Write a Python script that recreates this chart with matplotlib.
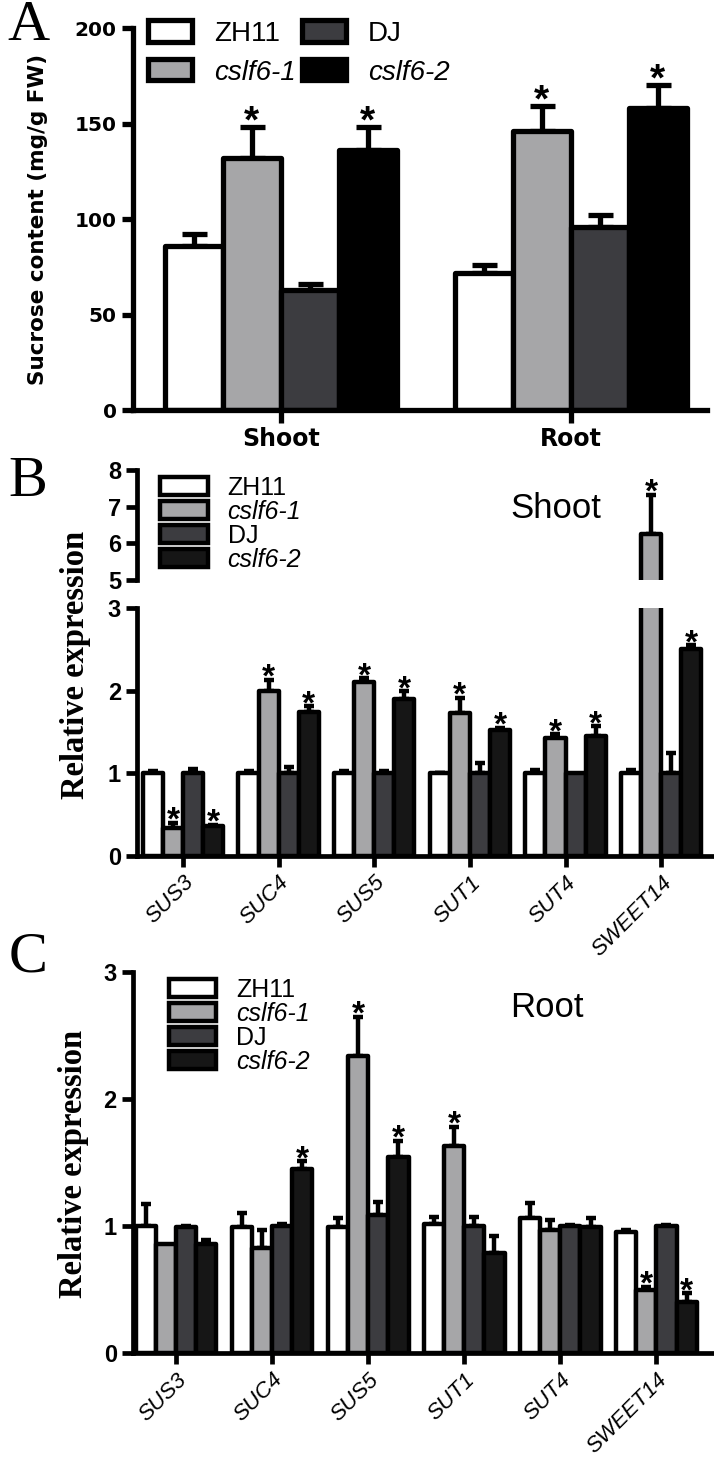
import numpy as np
import matplotlib.pyplot as plt

SANS = ['Liberation Sans', 'DejaVu Sans']
WIDE = ['DejaVu Sans']
SERIF = ['Liberation Serif', 'DejaVu Serif']
plt.rcParams['font.family'] = SANS

genotypes = ['ZH11', 'cslf6-1', 'DJ', 'cslf6-2']
italic = [False, True, False, True]

# ---- panel A: sucrose content ----
tissues = ['Shoot', 'Root']
a_mean = [[86, 72], [132, 146], [63, 96], [136, 158]]
a_err = [[6, 4], [16, 13], [3, 6], [12, 12]]
a_sig = [[0, 0], [1, 1], [0, 0], [1, 1]]

# ---- panels B/C: relative expression ----
genes = ['SUS3', 'SUC4', 'SUS5', 'SUT1', 'SUT4', 'SWEET14']
b_mean = [[1.0, 1.0, 1.0, 1.0, 1.0, 1.0],
          [0.34, 2.0, 2.11, 1.73, 1.43, 6.25],
          [1.0, 1.0, 1.0, 1.0, 1.0, 1.0],
          [0.36, 1.74, 1.9, 1.53, 1.45, 2.5]]
b_err = [[0.03, 0.03, 0.03, 0.01, 0.04, 0.04],
         [0.06, 0.13, 0.04, 0.18, 0.04, 1.07],
         [0.05, 0.08, 0.03, 0.12, 0.0, 0.24],
         [0.02, 0.07, 0.09, 0.02, 0.12, 0.05]]
b_sig = [[0, 0, 0, 0, 0, 0],
         [1, 1, 1, 1, 1, 1],
         [0, 0, 0, 0, 0, 0],
         [1, 1, 1, 1, 1, 1]]

c_mean = [[1.0, 0.99, 0.99, 1.02, 1.06, 0.95],
          [0.86, 0.83, 2.34, 1.63, 0.97, 0.5],
          [0.99, 1.0, 1.09, 1.0, 1.0, 1.0],
          [0.86, 1.45, 1.54, 0.79, 0.99, 0.4]]
c_err = [[0.17, 0.11, 0.07, 0.05, 0.12, 0.02],
         [0.0, 0.14, 0.31, 0.15, 0.08, 0.02],
         [0.01, 0.02, 0.10, 0.07, 0.01, 0.01],
         [0.03, 0.06, 0.13, 0.13, 0.07, 0.07]]
c_sig = [[0, 0, 0, 0, 0, 0],
         [0, 0, 1, 1, 0, 1],
         [0, 0, 0, 0, 0, 0],
         [0, 1, 1, 0, 0, 1]]

colors_a = ['white', '#a6a6a8', '#3c3c40', '#000000']
colors_bc = ['white', '#a6a6a8', '#3c3c40', '#161616']


def draw_bars(ax, means, errs, sigs, colors, width, lw, cap, star, off):
    lo, hi = ax.get_ylim()
    x = np.arange(len(means[0]))
    n = len(means)
    for i in range(n):
        pos = x + (i - (n - 1) / 2) * width
        m = np.array(means[i], dtype=float)
        e = np.array(errs[i], dtype=float)
        ax.bar(pos, m, width, color=colors[i], edgecolor='k', linewidth=lw,
               joinstyle='round', label=genotypes[i], zorder=2)
        k = e > 0
        ax.errorbar(pos[k], m[k], yerr=[np.zeros(k.sum()), e[k]], fmt='none',
                    ecolor='k', elinewidth=lw, capsize=cap, capthick=lw, zorder=1)
        for p, mm, ee, s in zip(pos, m, e, sigs[i]):
            if s and lo <= mm + ee <= hi:
                ax.annotate('*', (p, mm + ee), xytext=(0, off), textcoords='offset points',
                            ha='center', va='baseline', fontsize=star, fontweight='bold')


def style(ax, lw):
    for s in ['top', 'right']:
        ax.spines[s].set_visible(False)
    for s in ['left', 'bottom']:
        ax.spines[s].set_linewidth(lw)
    ax.tick_params(width=lw, length=8, direction='out')


def italicize(leg):
    for t, it in zip(leg.get_texts(), italic):
        if it:
            t.set_fontstyle('italic')


fig = plt.figure(figsize=(7.14, 14.64), dpi=100)

# ================= A =================
axA = fig.add_axes([0.186, 0.7199, 0.804, 0.2609])
axA.set_ylim(0, 200)
axA.set_xlim(-0.51, 1.47)
draw_bars(axA, a_mean, a_err, a_sig, colors_a, 0.2, 3.8, 9, 28, -4)
style(axA, 3.8)
axA.set_yticks([0, 50, 100, 150, 200])
axA.set_yticklabels(['0', '50', '100', '150', '200'], fontsize=14.5, fontweight='bold', family=WIDE)
axA.set_xticks(range(len(tissues)))
axA.set_xticklabels(tissues, fontsize=17, fontweight='bold', family=WIDE)
axA.tick_params(axis='x', length=9)
axA.set_ylabel('Sucrose content (mg/g FW)', fontsize=15.5, fontweight='bold', family=WIDE)
axA.yaxis.set_label_coords(-0.147, 0.5)
legA = axA.legend(ncol=2, loc='upper left', bbox_to_anchor=(0.026, 1.02), frameon=False,
                  fontsize=20, handlelength=1.6, handleheight=0.8, handletextpad=0.8,
                  columnspacing=0.2, labelspacing=0.45, borderpad=0, borderaxespad=0)
italicize(legA)

# ================= B =================
axBu = fig.add_axes([0.192, 0.6038, 0.805, 0.0751])
axB = fig.add_axes([0.192, 0.4153, 0.805, 0.1694])
for ax, ticks in [(axBu, [5, 6, 7, 8]), (axB, [0, 1, 2, 3])]:
    ax.set_ylim(ticks[0], ticks[-1])
    ax.set_xlim(-0.48, 5.53)
    draw_bars(ax, b_mean, b_err, b_sig, colors_bc, 0.21, 3.2, 3.5, 24, -5)
    style(ax, 3.4)
    ax.set_yticks(ticks)
    ax.set_yticklabels([str(t) for t in ticks], fontsize=17, fontweight='bold')
axBu.spines['bottom'].set_visible(False)
axBu.set_xticks([])
axB.set_xticks(range(len(genes)))
axB.set_xticklabels(genes, rotation=45, ha='right', rotation_mode='anchor', fontsize=16,
                    fontstyle='italic')
legB = axBu.legend(loc='upper left', bbox_to_anchor=(0.04, 0.95), frameon=False, fontsize=18,
                   handlelength=1.9, handleheight=0.7, handletextpad=0.8, labelspacing=0.0,
                   borderpad=0, borderaxespad=0)
italicize(legB)
axBu.text(0.728, 0.655, 'Shoot', transform=axBu.transAxes, ha='center', va='center', fontsize=25)
fig.text(76 / 714, 1 - 665 / 1464, 'Relative expression', rotation=90, ha='center', va='center',
         fontsize=23.5, fontweight='bold', family=SERIF)

# ================= C =================
axC = fig.add_axes([0.186, 0.0758, 0.814, 0.2602])
axC.set_ylim(0, 3)
axC.set_xlim(-0.45, 5.6)
draw_bars(axC, c_mean, c_err, c_sig, colors_bc, 0.21, 3.2, 3.5, 24, -5)
style(axC, 3.4)
axC.set_yticks([0, 1, 2, 3])
axC.set_yticklabels(['0', '1', '2', '3'], fontsize=17, fontweight='bold')
axC.set_xticks(range(len(genes)))
axC.set_xticklabels(genes, rotation=45, ha='right', rotation_mode='anchor', fontsize=16,
                    fontstyle='italic')
legC = axC.legend(loc='upper left', bbox_to_anchor=(0.062, 0.985), frameon=False, fontsize=18,
                  handlelength=1.9, handleheight=0.7, handletextpad=0.8, labelspacing=0.0,
                  borderpad=0, borderaxespad=0)
italicize(legC)
axC.text(0.713, 0.908, 'Root', transform=axC.transAxes, ha='center', va='center', fontsize=25)
fig.text(74 / 714, 1 - 1164 / 1464, 'Relative expression', rotation=90, ha='center', va='center',
         fontsize=23.5, fontweight='bold', family=SERIF)

# panel letters
for lab, yy in [('A', 26), ('B', 482), ('C', 958)]:
    fig.text(28 / 714, 1 - yy / 1464, lab, ha='center', va='center', fontsize=42, family=SERIF)

fig.savefig('out.png', dpi=100)
